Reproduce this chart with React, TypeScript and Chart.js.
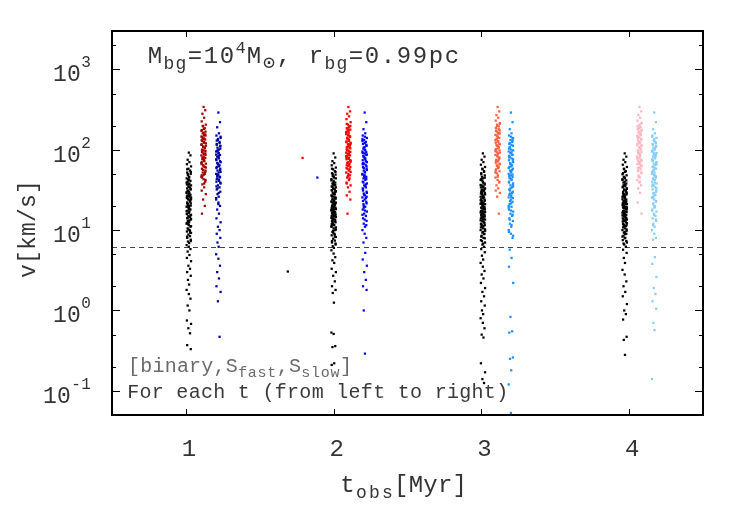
import { useEffect, useRef } from 'react';
import { Chart, registerables } from 'chart.js';

Chart.register(...registerables);

// ---- axes / reference values ----
const T_OBS_TICKS = [1, 2, 3, 4];
const Y_MAJOR_TICKS = [0.1, 1, 10, 100, 1000];
const Y_MAJOR_EXPONENTS = ['-1', '0', '1', '2', '3'];
const Y_MINOR_TICKS = [0.2, 0.5, 2, 5, 20, 50, 200, 500, 2000];
const V_REFERENCE_LINE = 6.2;

// strip positions (t_obs) for each observation time
const BINARY_X = [1.02, 2.0, 3.01, 3.97];
const FAST_X = [1.12, 2.1, 3.11, 4.07];
const SLOW_X = [1.22, 2.21, 3.2, 4.17];

const BINARY_COLORS = ['#000000', '#000000', '#000000', '#000000'];
const FAST_COLORS = ['#a00000', '#ff0000', '#ff6347', '#ffb6c1'];
const SLOW_COLORS = ['#0000a0', '#0000ff', '#1e90ff', '#87cefa'];

// ---- velocities (km/s) ----
const BINARY_V_T1 = [92, 85, 75, 70, 66, 62, 58, 55, 52, 50, 48, 46, 44, 42, 41, 40, 38, 37, 36, 35, 34, 33, 32, 31, 30, 29, 28, 27.5, 27, 26, 25, 24.5, 24, 23, 22, 21.5, 21, 20, 19.5, 19, 18, 17.5, 17, 16, 15.5, 15, 14.5, 14, 13.5, 13, 12.5, 12, 11.5, 11, 10.5, 10, 9.6, 9.2, 8.8, 8.4, 8, 7.6, 7.2, 6.9, 6.5, 6.2, 5.8, 5.4, 4.9, 4.5, 4.1, 3.6, 3.3, 3.0, 2.7, 2.4, 2.1, 1.8, 1.6, 1.4, 1.15, 1.0, 0.75, 0.68, 0.6, 0.52, 0.37, 0.33, 43, 37, 29.5, 26.5, 23.5, 20.5, 18.5, 15.8, 13.8, 11.8, 9.8, 57, 53, 49.5, 45, 39, 34.5, 32.5, 30.5, 28.5, 26.2, 25.5, 24.2, 22.6, 21.8, 20.2, 19.2, 18.2, 17.2, 16.4, 15.3, 14.2, 13.2, 12.2, 11.2, 10.2, 9.3, 8.3, 7.3, 12.8];
const FAST_V_T1 = [340, 310, 280, 250, 225, 205, 195, 185, 175, 168, 160, 152, 146, 140, 134, 128, 122, 117, 112, 108, 104, 100, 96, 92, 88, 85, 82, 79, 76, 73, 70, 67, 64, 61, 58, 55, 52, 49, 46, 43, 40, 37, 34, 31, 28, 24, 20, 16, 150, 138, 125, 115, 98, 90, 80, 72, 66, 60, 56, 50, 45, 42, 198, 182, 172, 163, 155, 143, 136, 131, 120, 110, 106, 94, 86, 77, 74, 68, 62, 53, 47, 38, 48];
const SLOW_V_T1 = [290, 220, 190, 160, 150, 140, 132, 125, 118, 112, 106, 100, 95, 90, 86, 82, 78, 74, 70, 67, 64, 61, 58, 55, 52, 50, 48, 46, 44, 42, 40, 38, 36, 34, 32, 30, 28, 26, 24, 22, 20, 18, 16, 14, 12.5, 11, 10, 9, 8, 7, 6.2, 5, 4.4, 3.6, 3.0, 2.5, 2.0, 1.7, 1.3, 0.47, 130, 110, 96, 84, 76, 65, 56, 47, 41, 35, 145, 136, 121, 115, 103, 98, 91, 87, 80, 72, 68, 62, 59, 53, 49, 45, 43, 39, 33, 29, 25, 21];

const BINARY_V_T2 = [90, 80, 72, 68, 64, 60, 57, 54, 51, 49, 47, 45, 43, 41, 39, 38, 36, 35, 34, 33, 32, 31, 30, 29, 28, 27, 26, 25, 24, 23, 22.5, 22, 21, 20.5, 20, 19, 18.5, 18, 17.5, 17, 16.5, 16, 15.5, 15, 14.5, 14, 13.5, 13, 12.5, 12, 11.5, 11, 10.5, 10, 9.5, 9, 8.6, 8.2, 7.8, 7.4, 7, 6.6, 6.3, 6, 5.6, 5.1, 4.6, 4.2, 3.9, 3.3, 3.0, 2.7, 2.3, 2.0, 1.8, 1.65, 1.25, 0.53, 0.51, 0.36, 0.35, 0.22, 0.21, 44, 37, 29.5, 26.5, 24.5, 21.5, 19.5, 17.8, 16.2, 15.2, 13.8, 12.8, 11.8, 10.8, 9.8, 8.8, 58, 53, 49.5, 46, 41.5, 39, 36.5, 34.5, 32.5, 31.5, 30.5, 28.5, 27.8, 26.2, 25.5, 24.2, 23.2, 22.6, 21.8, 21.2, 20.2, 19.2, 18.8, 18.2, 17.2, 16.8, 16.4, 15.6, 15.3, 14.8, 14.2, 13.6, 13.2, 12.2, 11.6, 11.2, 10.2, 9.3, 8.3, 7.3, 6.8];
const FAST_V_T2 = [340, 300, 280, 260, 240, 220, 205, 195, 185, 178, 170, 163, 156, 150, 144, 138, 132, 127, 122, 117, 112, 108, 104, 100, 96, 92, 88, 85, 82, 79, 76, 73, 70, 67, 64, 61, 58, 55, 52, 50, 48, 45, 42, 39, 36, 34, 30, 27, 24, 16, 190, 160, 135, 115, 98, 90, 80, 71, 63, 57, 210, 198, 182, 174, 166, 153, 147, 141, 129, 124, 119, 110, 106, 101, 94, 89, 86, 83, 77, 74, 68, 65, 59, 53, 47, 44, 38];
const SLOW_V_T2 = [290, 220, 180, 160, 150, 140, 132, 125, 118, 112, 106, 100, 95, 90, 86, 82, 78, 74, 70, 67, 64, 61, 58, 55, 52, 50, 48, 46, 44, 42, 40, 38, 36, 34, 32, 30, 28.5, 27, 25.5, 24, 22.5, 21, 19.5, 18, 17, 16, 15, 14, 13, 12, 11, 10, 9, 8, 7, 5.2, 4.3, 3.6, 3.0, 2.4, 2.0, 1.8, 1.0, 0.29, 128, 108, 93, 84, 76, 66, 56, 47, 37, 31, 26, 20, 145, 136, 121, 115, 103, 98, 91, 87, 80, 72, 68, 62, 59, 53, 49, 45, 43, 39, 35, 33, 29, 27.5, 25, 23, 21.5, 19, 17.5, 15.5, 13.5, 11.5];

const BINARY_V_T3 = [90, 82, 75, 70, 65, 61, 57, 54, 51, 48, 46, 44, 42, 40, 38, 36, 35, 34, 33, 32, 31, 30, 29, 28, 27, 26, 25, 24, 23, 22, 21.5, 21, 20, 19.5, 19, 18, 17.5, 17, 16.5, 16, 15.5, 15, 14.5, 14, 13.5, 13, 12.5, 12, 11.5, 11, 10.5, 10, 9.5, 9, 8.5, 8, 7.5, 7, 6.6, 6.2, 5.8, 5.3, 4.8, 4.3, 3.9, 3.5, 3.1, 2.8, 2.5, 2.2, 1.9, 1.7, 1.5, 1.3, 1.15, 1.0, 0.9, 0.8, 0.7, 0.6, 0.5, 0.46, 0.22, 0.17, 0.14, 0.125, 43, 37, 29.5, 26.5, 23.5, 20.5, 18.5, 15.8, 13.8, 11.8, 9.8, 58, 53, 49.5, 45, 41.5, 39, 36.5, 34.5, 32.5, 31.5, 30.5, 28.5, 27.8, 26.2, 25.5, 24.2, 23.2, 22.6, 21.8, 21.2, 20.2, 19.2, 18.8, 18.2, 17.2, 16.8, 16.4, 15.6, 15.3, 14.8, 14.2, 13.6, 13.2, 12.8, 12.2, 11.6, 11.2, 10.8, 10.2, 9.3, 8.9, 8.3, 7.9, 7.3, 6.8];
const FAST_V_T3 = [340, 300, 270, 250, 230, 215, 205, 195, 185, 176, 168, 160, 153, 146, 140, 134, 128, 122, 117, 112, 107, 102, 98, 94, 90, 86, 82, 78, 75, 72, 69, 66, 63, 60, 57, 54, 51, 48, 45, 42, 39, 36, 33, 31, 29, 26, 16, 188, 158, 137, 110, 96, 88, 80, 70, 62, 55, 210, 198, 180, 172, 164, 150, 143, 131, 125, 119, 114, 104, 100, 92, 84, 76, 73, 67, 64, 59, 52, 46, 40];
const SLOW_V_T3 = [290, 220, 180, 160, 150, 140, 132, 125, 118, 112, 106, 100, 95, 90, 86, 82, 78, 74, 70, 67, 64, 61, 58, 55, 52, 50, 48, 46, 44, 42, 40, 38, 36, 34, 32, 30, 28.5, 27, 25.5, 24, 22.5, 21, 19.5, 18, 17, 16, 15, 14, 13, 12, 11, 10, 9, 8, 5.7, 4.5, 3.5, 2.2, 0.83, 0.55, 0.53, 0.26, 0.25, 0.18, 0.12, 0.053, 128, 108, 93, 84, 76, 66, 56, 47, 37, 31, 26, 20, 145, 136, 121, 115, 103, 98, 91, 87, 80, 72, 68, 62, 59, 53, 49, 45, 43, 39, 35, 33, 29, 27.5, 25, 23, 21.5, 19, 17.5, 15.5, 13.5, 11.5, 9.5, 8.5];

const BINARY_V_T4 = [90, 82, 75, 70, 65, 61, 57, 54, 51, 48, 46, 44, 42, 40, 38, 36, 35, 34, 33, 32, 31, 30, 29, 28, 27, 26, 25, 24, 23, 22, 21.5, 21, 20, 19.5, 19, 18, 17.5, 17, 16.5, 16, 15.5, 15, 14.5, 14, 13.5, 13, 12.5, 12, 11.5, 11, 10.5, 10, 9.5, 9, 8.5, 8, 7.5, 7, 6.6, 6.2, 5.7, 5.2, 4.5, 3.9, 3.2, 2.8, 2.3, 2.0, 1.7, 1.5, 1.2, 1.0, 0.9, 0.77, 0.47, 0.43, 0.28, 43, 37, 29.5, 26.5, 23.5, 20.5, 18.5, 15.8, 13.8, 11.8, 9.8, 58, 53, 49.5, 45, 41.5, 39, 36.5, 34.5, 32.5, 31.5, 30.5, 28.5, 27.8, 26.2, 25.5, 24.2, 23.2, 22.6, 21.8, 21.2, 20.2, 19.2, 18.8, 18.2, 17.2, 16.8, 16.4, 15.6, 15.3, 14.8, 14.2, 13.6, 13.2, 12.8, 12.2, 11.6, 11.2, 10.8, 10.2, 9.3, 8.9, 8.3, 7.9, 7.3, 6.8];
const FAST_V_T4 = [340, 300, 270, 250, 230, 215, 200, 190, 180, 172, 164, 156, 149, 142, 136, 130, 124, 118, 113, 108, 103, 98, 94, 90, 86, 82, 78, 75, 72, 69, 66, 63, 60, 57, 54, 51, 48, 45, 42, 39, 36, 33, 29, 22, 16, 185, 160, 138, 112, 96, 88, 80, 70, 62, 55, 205, 195, 176, 168, 152, 145, 133, 127, 121, 115, 106, 101, 92, 84, 76, 73, 67, 64, 59, 52, 46, 40];
const SLOW_V_T4 = [290, 220, 180, 160, 150, 140, 132, 125, 118, 112, 106, 100, 95, 90, 86, 82, 78, 74, 70, 67, 64, 61, 58, 55, 52, 50, 48, 46, 44, 42, 40, 38, 36, 34, 32, 30, 28.5, 27, 25.5, 24, 22.5, 21, 19.5, 18, 17, 16, 15, 14, 13, 12, 11, 10, 9, 8, 7.6, 4.6, 3.8, 2.6, 1.9, 1.6, 1.3, 1.05, 0.7, 0.57, 0.14, 128, 108, 93, 84, 76, 66, 56, 47, 37, 31, 26, 20, 145, 136, 121, 115, 103, 98, 91, 87, 80, 72, 68, 62, 59, 53, 49, 45, 43, 39, 35, 33, 29, 27.5, 25, 23, 21.5, 19, 17.5, 15.5, 13.5, 11.5];

// isolated points between t=1 and t=2
const STRAY_X = [1.69, 1.79, 1.89];
const STRAY_V = [3.05, 79, 45];
const STRAY_COLORS = ['#000000', '#ff0000', '#0000ff'];

const BINARY_V = [BINARY_V_T1, BINARY_V_T2, BINARY_V_T3, BINARY_V_T4];
const FAST_V = [FAST_V_T1, FAST_V_T2, FAST_V_T3, FAST_V_T4];
const SLOW_V = [SLOW_V_T1, SLOW_V_T2, SLOW_V_T3, SLOW_V_T4];

// small horizontal spread of the dots inside a strip (visual only)
const JITTER = [0, 0.011, -0.008, 0.004, -0.013, 0.015, -0.003, 0.008, -0.011, 0.013, -0.006, 0.002, -0.015];

const MONO = '"Liberation Mono", "DejaVu Sans Mono", "DejaVu Sans", monospace';
const TEXT_COLOR = '#333';

function drawMono(ctx: CanvasRenderingContext2D, text: string, x: number, y: number, size: number, adv: number) {
  ctx.font = `${size}px ${MONO}`;
  ctx.textAlign = 'center';
  ctx.textBaseline = 'alphabetic';
  for (let i = 0; i < text.length; i++) {
    ctx.fillText(text[i], x + i * adv + adv / 2, y);
  }
  return x + text.length * adv;
}

const decorPlugin = {
  id: 'decor',
  beforeDatasetsDraw(chart: any) {
    const { ctx, chartArea: a, scales } = chart;
    const py = Math.round(scales.y.getPixelForValue(V_REFERENCE_LINE)) + 0.5;
    ctx.save();
    ctx.strokeStyle = '#444';
    ctx.lineWidth = 1;
    ctx.setLineDash([5, 4]);
    ctx.beginPath();
    ctx.moveTo(a.left, py);
    ctx.lineTo(a.right, py);
    ctx.stroke();
    ctx.restore();
  },
  afterDraw(chart: any) {
    const { ctx, chartArea: a, scales } = chart;
    const xs = scales.x;
    const ys = scales.y;
    ctx.save();
    ctx.strokeStyle = '#000';
    ctx.lineWidth = 1;
    ctx.beginPath();
    Y_MAJOR_TICKS.forEach((v) => {
      const p = Math.round(ys.getPixelForValue(v)) + 0.5;
      ctx.moveTo(a.left, p); ctx.lineTo(a.left + 8, p);
      ctx.moveTo(a.right, p); ctx.lineTo(a.right - 8, p);
    });
    Y_MINOR_TICKS.forEach((v) => {
      const p = Math.round(ys.getPixelForValue(v)) + 0.5;
      ctx.moveTo(a.left, p); ctx.lineTo(a.left + 4, p);
      ctx.moveTo(a.right, p); ctx.lineTo(a.right - 4, p);
    });
    T_OBS_TICKS.forEach((v) => {
      const p = Math.round(xs.getPixelForValue(v)) + 0.5;
      ctx.moveTo(p, a.bottom); ctx.lineTo(p, a.bottom - 6);
      ctx.moveTo(p, a.top); ctx.lineTo(p, a.top + 6);
    });
    ctx.stroke();
    ctx.lineWidth = 2;
    ctx.strokeRect(a.left, a.top, a.right - a.left, a.bottom - a.top);

    ctx.fillStyle = TEXT_COLOR;
    // y tick labels: 10^n
    Y_MAJOR_TICKS.forEach((v, i) => {
      const p = ys.getPixelForValue(v);
      const exp = Y_MAJOR_EXPONENTS[i];
      const right = 91;
      const expW = exp.length * 10;
      const start = right - expW - 28;
      drawMono(ctx, '10', start, p + 12, 23, 14);
      drawMono(ctx, exp, start + 28, p - 2, 16, 10);
    });
    // x tick labels
    T_OBS_TICKS.forEach((v) => {
      const p = xs.getPixelForValue(v);
      drawMono(ctx, String(v), p - 4, 456, 24, 14);
    });
    // x title
    let cx = 340;
    cx = drawMono(ctx, 't', cx, 492, 24, 15);
    cx = drawMono(ctx, 'obs', cx, 498, 18, 13);
    drawMono(ctx, '[Myr]', cx, 492, 24, 14.6);
    // y title
    ctx.save();
    ctx.translate(35, 229);
    ctx.rotate(-Math.PI / 2);
    drawMono(ctx, 'v[km/s]', -49, 0, 23, 14);
    ctx.restore();

    // top annotation
    cx = 147;
    cx = drawMono(ctx, 'M', cx, 63, 24, 16);
    cx = drawMono(ctx, 'bg', cx, 69, 18, 12);
    cx = drawMono(ctx, '=10', cx, 63, 24, 16);
    cx = drawMono(ctx, '4', cx, 53, 17, 11);
    cx = drawMono(ctx, 'M', cx, 63, 24, 16);
    cx = drawMono(ctx, '\u2299', cx, 69, 20, 14);
    cx = drawMono(ctx, ', r', cx, 63, 24, 16);
    cx = drawMono(ctx, 'bg', cx, 69, 18, 12);
    drawMono(ctx, '=0.99pc', cx, 63, 24, 16);

    // bottom-left notes
    ctx.fillStyle = '#6a6a6a';
    cx = 128;
    cx = drawMono(ctx, '[binary,S', cx, 372, 20, 12.2);
    cx = drawMono(ctx, 'fast', cx, 377, 15, 9.7);
    cx = drawMono(ctx, ',S', cx, 372, 20, 12.2);
    cx = drawMono(ctx, 'slow', cx, 377, 15, 9.7);
    drawMono(ctx, ']', cx, 372, 20, 12.2);
    ctx.fillStyle = '#3a3a3a';
    drawMono(ctx, 'For each t (from left to right)', 127, 398, 20, 12.3);
    ctx.restore();
  },
};

export default function App() {
  const ref = useRef<HTMLCanvasElement>(null);
  useEffect(() => {
    if (!ref.current) return;
    const datasets: any[] = [];
    const mk = (xs0: number, vals: number[], color: string) => ({
      data: vals.map((v, i) => ({ x: xs0 + JITTER[i % JITTER.length], y: v })),
      backgroundColor: color,
      borderColor: color,
      pointStyle: 'rect',
      pointRadius: 1.6,
      pointHoverRadius: 1.6,
      borderWidth: 0,
      pointBorderWidth: 0,
    });
    for (let k = 0; k < 4; k++) {
      datasets.push(mk(BINARY_X[k], BINARY_V[k], BINARY_COLORS[k]));
      datasets.push(mk(FAST_X[k], FAST_V[k], FAST_COLORS[k]));
      datasets.push(mk(SLOW_X[k], SLOW_V[k], SLOW_COLORS[k]));
    }
    STRAY_X.forEach((x, i) => {
      datasets.push({
        data: [{ x, y: STRAY_V[i] }],
        backgroundColor: STRAY_COLORS[i],
        borderColor: STRAY_COLORS[i],
        pointStyle: 'rect',
        pointRadius: 1.6,
        borderWidth: 0,
        pointBorderWidth: 0,
      });
    });
    const chart = new Chart(ref.current, {
      type: 'scatter',
      data: { datasets },
      options: {
        responsive: false,
        animation: false,
        devicePixelRatio: 1,
        layout: { padding: { left: 112, top: 31, right: 47, bottom: 110 } },
        plugins: { legend: { display: false }, tooltip: { enabled: false } },
        scales: {
          x: { type: 'linear', min: 0.5, max: 4.5, display: false },
          y: { type: 'logarithmic', min: 0.05, max: 3000, display: false },
        },
      },
      plugins: [decorPlugin],
    } as any);
    return () => chart.destroy();
  }, []);
  return (
    <div style={{ position: 'fixed', left: 0, top: 0, width: 750, height: 525, background: '#fff' }}>
      <canvas ref={ref} width={750} height={525} />
    </div>
  );
}
